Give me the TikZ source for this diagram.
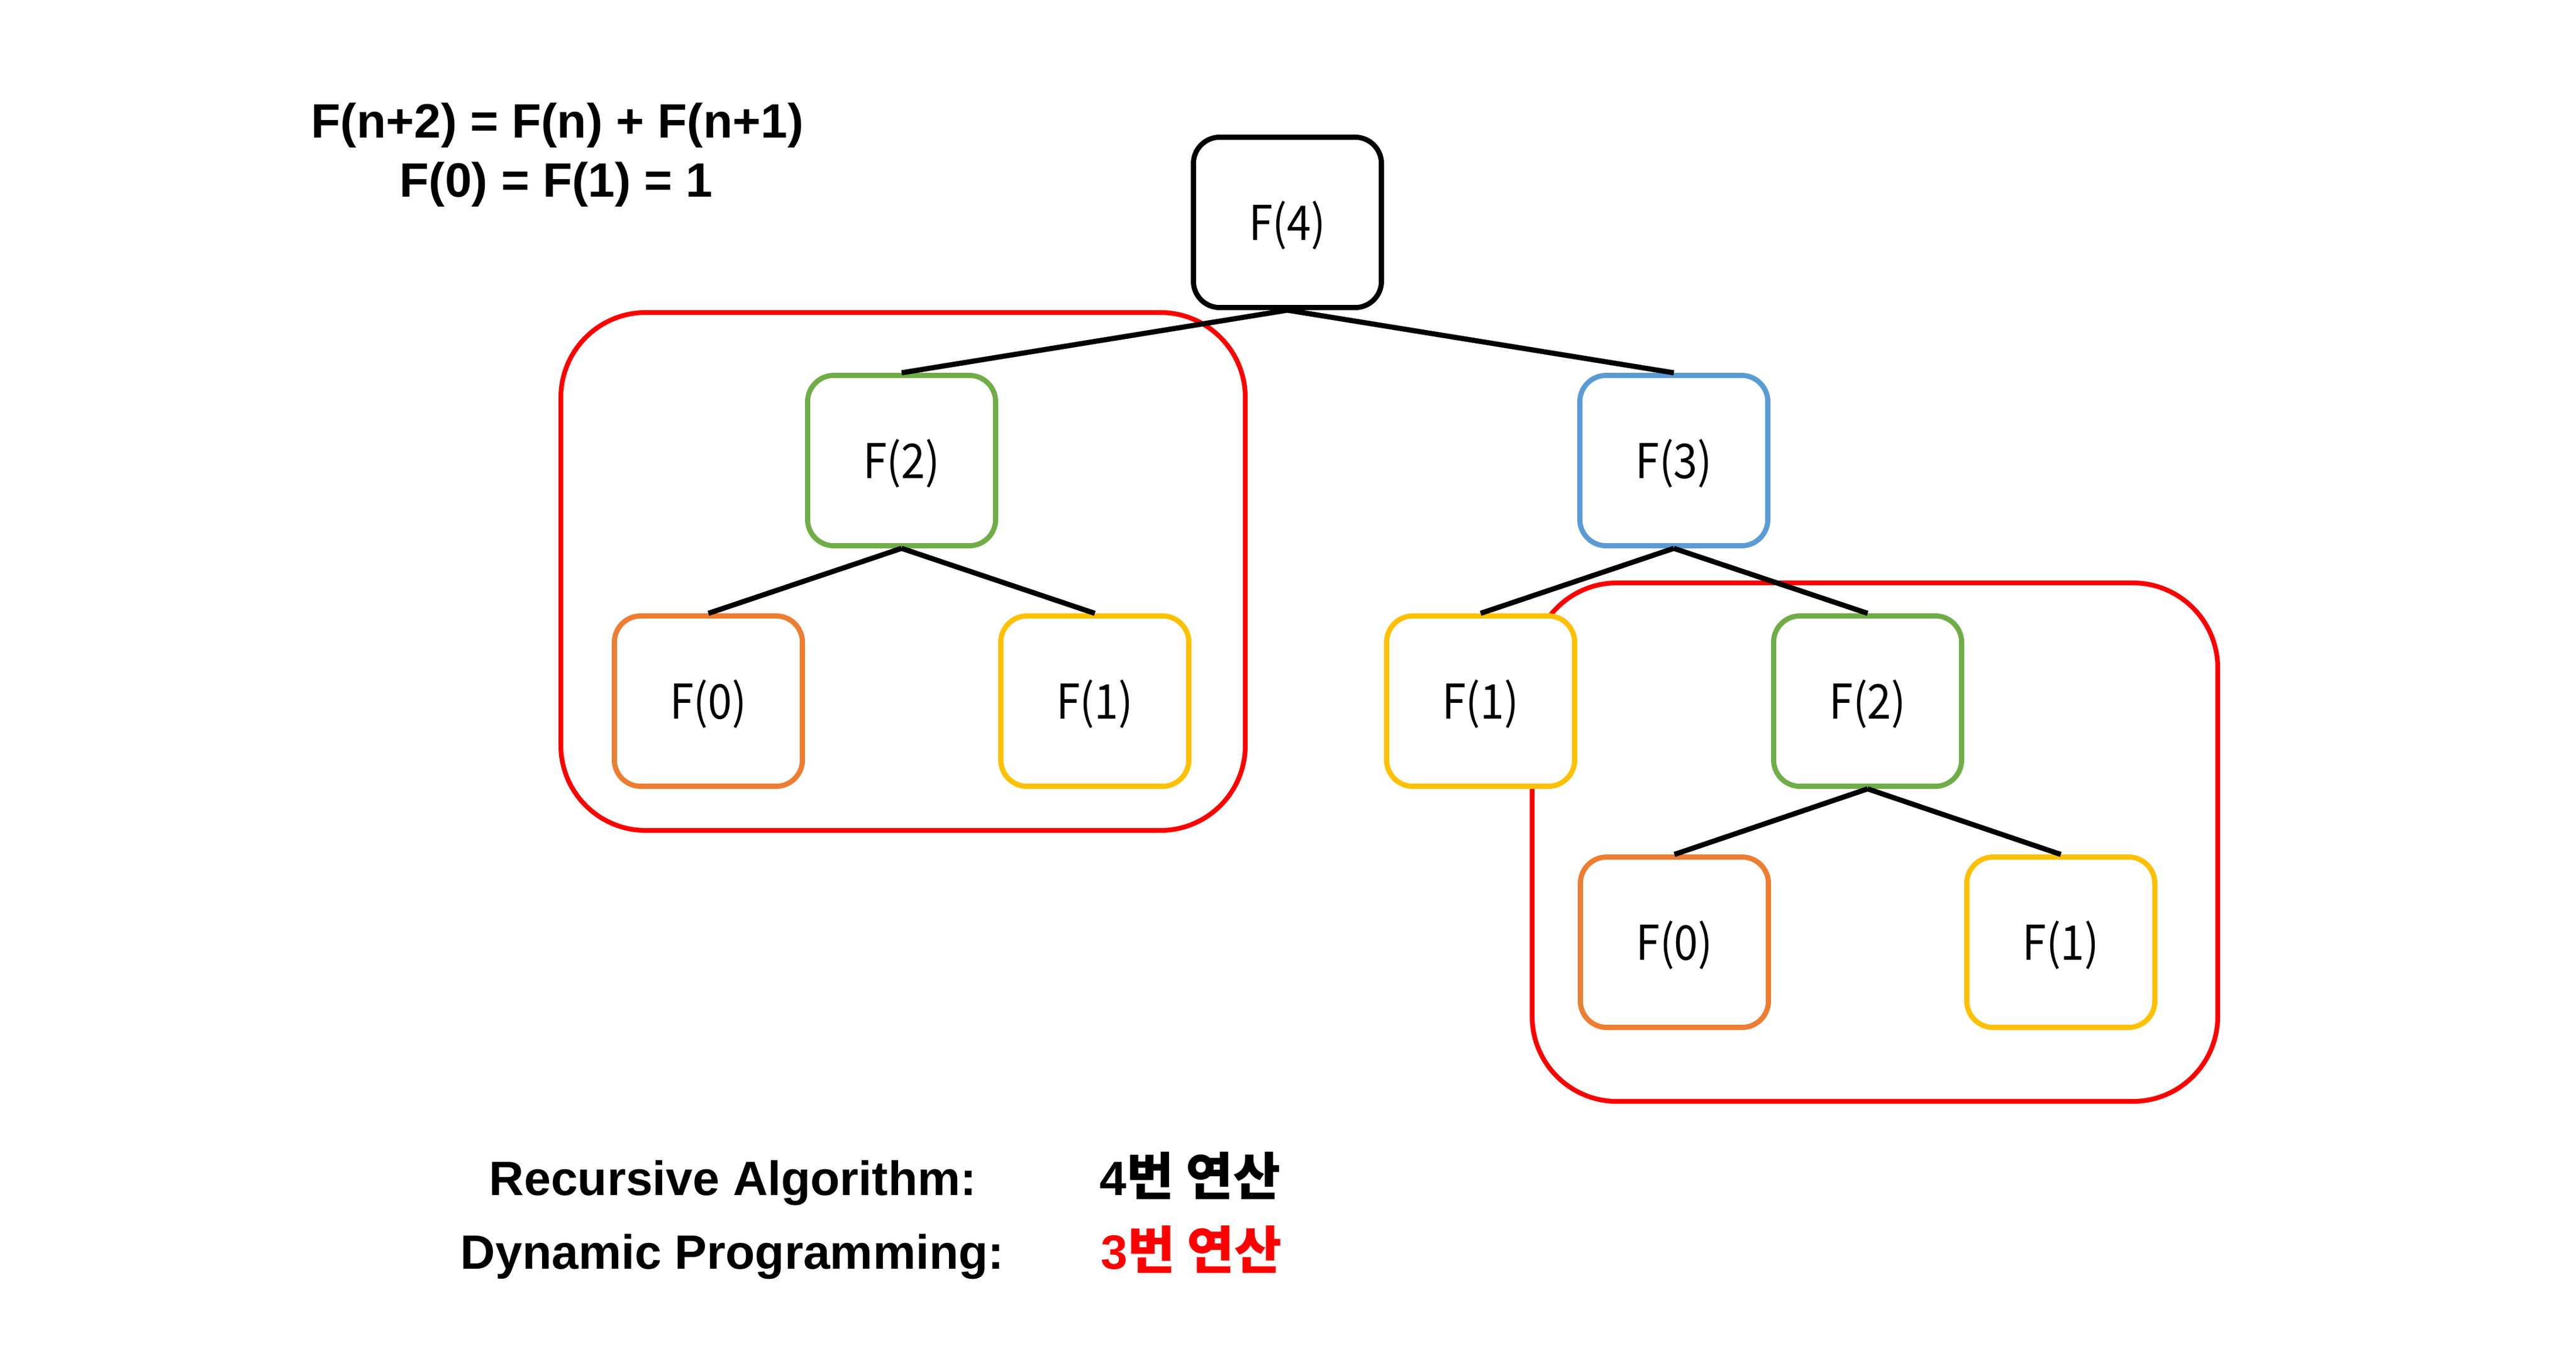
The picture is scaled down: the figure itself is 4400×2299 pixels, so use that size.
\documentclass[tikz,border=0pt]{standalone}
\usepackage{fontspec}
\setmainfont{Liberation Sans}
\newfontfamily\kr{Noto Sans CJK KR}
\newfontfamily\lbl[FakeStretch=0.9]{Noto Sans CJK KR}
\definecolor{cgreen}{HTML}{70AD47}
\definecolor{cblue}{HTML}{5B9BD5}
\definecolor{corange}{HTML}{ED7D31}
\definecolor{cyellow}{HTML}{FFC000}
\definecolor{cred}{HTML}{FF0000}
\tikzset{
  fbox/.style={draw, fill=white, line width=2.5pt, rounded corners=0.45cm,
    minimum width=3.21cm, minimum height=2.91cm, inner sep=0pt,
    text height=0.6cm, text depth=0pt,
    font=\lbl\fontsize{23.3pt}{28pt}\selectfont},
  memo/.style={draw=cred, line width=2.3pt, rounded corners=1.45cm},
  link/.style={line width=2.5pt, black},
  btxt/.style={inner sep=0pt, font=\bfseries\fontsize{23.4pt}{28pt}\selectfont}
}
\begin{document}
\begin{tikzpicture}[x=0.01cm,y=-0.01cm]
\useasboundingbox (0,0) rectangle (4400,2299);
% memo regions
\draw[memo] (958,534) rectangle (2127,1419);
\draw[memo] (2617,996) rectangle (3788,1882);
% nodes
\node[fbox, draw=black] (f4) at (2199,380) {F(4)};
\node[fbox, draw=cgreen] (f2l) at (1540,787) {F(2)};
\node[fbox, draw=cblue] (f3) at (2859,787) {F(3)};
\node[fbox, draw=corange] (f0l) at (1210,1198) {F(0)};
\node[fbox, draw=cyellow] (f1l) at (1870,1198) {F(1)};
\node[fbox, draw=cyellow] (f1m) at (2529,1198) {F(1)};
\node[fbox, draw=cgreen] (f2r) at (3190,1198) {F(2)};
\node[fbox, draw=corange] (f0r) at (2860,1610) {F(0)};
\node[fbox, draw=cyellow] (f1r) at (3520,1610) {F(1)};
% edges
\draw[link] (f4.south) -- (f2l.north);
\draw[link] (f4.south) -- (f3.north);
\draw[link] (f2l.south) -- (f0l.north);
\draw[link] (f2l.south) -- (f1l.north);
\draw[link] (f3.south) -- (f1m.north);
\draw[link] (f3.south) -- (f2r.north);
\draw[link] (f2r.south) -- (f0r.north);
\draw[link] (f2r.south) -- (f1r.north);
% formula
\node[btxt, anchor=base] (eq1) at (952,235) {F(n+2) = F(n) + F(n+1)};
\node[btxt, anchor=base] (eq2) at (950,336) {F(0) = F(1) = 1};
% bottom text
\node[btxt, anchor=base] (ra) at (1252,2042) {Recursive Algorithm:};
\node[btxt, anchor=base] (dp) at (1251,2168) {Dynamic Programming:};
\node[btxt, anchor=base west] (ra4) at (1878,2042) {4{\kr\bfseries\fontsize{25pt}{28pt}\selectfont 번 연산}};
\node[btxt, anchor=base west, text=cred] (dp3) at (1880,2168) {3{\kr\bfseries\fontsize{25pt}{28pt}\selectfont 번 연산}};
\end{tikzpicture}
\end{document}
